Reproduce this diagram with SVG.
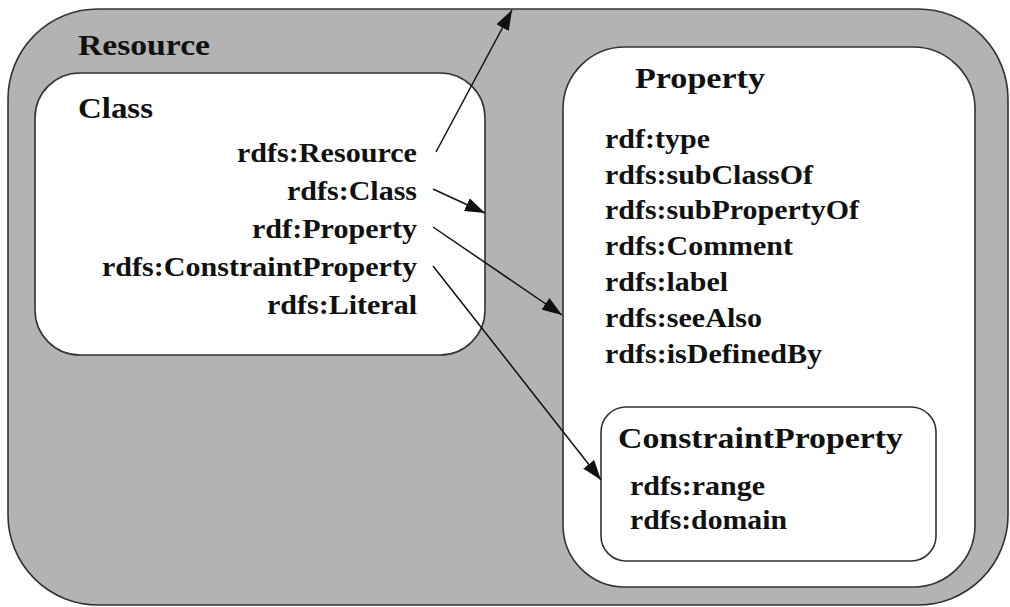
<svg xmlns="http://www.w3.org/2000/svg" width="1010" height="607" viewBox="0 0 1010 607">
  <style>
    .box { stroke: #333; stroke-width: 1.6; }
    .outer { fill: #b3b3b3; }
    .inner { fill: #ffffff; }
    .t text { font-family: 'Liberation Serif', 'Times New Roman', serif; font-weight: bold; fill: #111; }
    .head { font-size: 30px; }
    .item { font-size: 26.5px; }
    .end { text-anchor: end; }
    .edge { stroke: #111; stroke-width: 1.5; fill: none; marker-end: url(#arrow); }
  </style>
  <defs>
    <marker id="arrow" viewBox="0 0 20 14" refX="20" refY="7" markerWidth="20" markerHeight="14" markerUnits="userSpaceOnUse" orient="auto">
      <path d="M0,0 L20,7 L0,14 Z" fill="#111"/>
    </marker>
  </defs>

  <rect width="1010" height="607" fill="#ffffff"/>

  <g class="t">
    <!-- Resource: outer container -->
    <g id="resource">
      <rect class="box outer" x="8" y="9" width="1000" height="596" rx="90" ry="90"/>
      <text class="head" x="78" y="55" textLength="132" lengthAdjust="spacingAndGlyphs">Resource</text>
    </g>

    <!-- Class -->
    <g id="class">
      <rect class="box inner" x="35" y="73" width="450" height="282" rx="45" ry="45"/>
      <text class="head" x="78" y="118" textLength="75" lengthAdjust="spacingAndGlyphs">Class</text>
      <text class="item end" x="417" y="162" textLength="180" lengthAdjust="spacingAndGlyphs">rdfs:Resource</text>
      <text class="item end" x="417" y="200" textLength="130" lengthAdjust="spacingAndGlyphs">rdfs:Class</text>
      <text class="item end" x="417" y="238" textLength="165" lengthAdjust="spacingAndGlyphs">rdf:Property</text>
      <text class="item end" x="417" y="276" textLength="315" lengthAdjust="spacingAndGlyphs">rdfs:ConstraintProperty</text>
      <text class="item end" x="417" y="314" textLength="150" lengthAdjust="spacingAndGlyphs">rdfs:Literal</text>
    </g>

    <!-- Property -->
    <g id="property">
      <rect class="box inner" x="563" y="47" width="412" height="540" rx="62" ry="62"/>
      <text class="head" x="635" y="88" textLength="130" lengthAdjust="spacingAndGlyphs">Property</text>
      <text class="item" x="605" y="148" textLength="105" lengthAdjust="spacingAndGlyphs">rdf:type</text>
      <text class="item" x="605" y="184" textLength="208" lengthAdjust="spacingAndGlyphs">rdfs:subClassOf</text>
      <text class="item" x="605" y="219" textLength="254" lengthAdjust="spacingAndGlyphs">rdfs:subPropertyOf</text>
      <text class="item" x="605" y="255" textLength="188" lengthAdjust="spacingAndGlyphs">rdfs:Comment</text>
      <text class="item" x="605" y="291" textLength="123" lengthAdjust="spacingAndGlyphs">rdfs:label</text>
      <text class="item" x="605" y="327" textLength="157" lengthAdjust="spacingAndGlyphs">rdfs:seeAlso</text>
      <text class="item" x="605" y="363" textLength="217" lengthAdjust="spacingAndGlyphs">rdfs:isDefinedBy</text>
    </g>

    <!-- ConstraintProperty (inside Property) -->
    <g id="constraint-property">
      <rect class="box inner" x="601" y="407" width="335" height="154" rx="25" ry="25"/>
      <text class="head" x="618" y="448" textLength="285" lengthAdjust="spacingAndGlyphs">ConstraintProperty</text>
      <text class="item" x="630" y="495" textLength="135" lengthAdjust="spacingAndGlyphs">rdfs:range</text>
      <text class="item" x="630" y="529" textLength="157" lengthAdjust="spacingAndGlyphs">rdfs:domain</text>
    </g>
  </g>

  <!-- connectors -->
  <g id="connectors">
    <line class="edge" x1="436" y1="152" x2="512" y2="10"/>
    <line class="edge" x1="433" y1="189" x2="485" y2="213"/>
    <line class="edge" x1="433" y1="227" x2="562" y2="315"/>
    <line class="edge" x1="433" y1="266" x2="601" y2="480"/>
  </g>
</svg>
